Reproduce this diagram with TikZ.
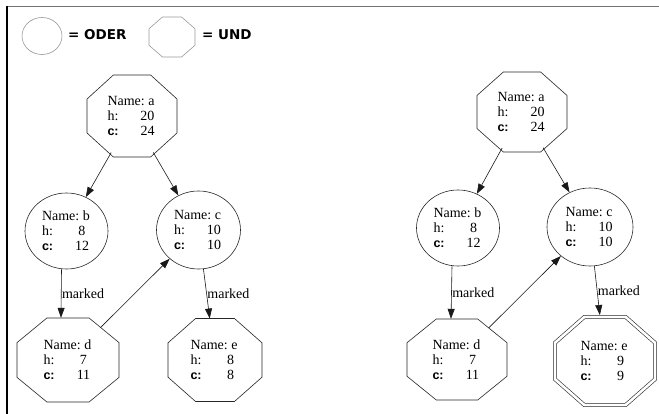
\documentclass[tikz,border=0pt]{standalone}
\usepackage{fontspec}
\setmainfont{Liberation Serif}
\newfontfamily\lserif{Liberation Serif}
\newfontfamily\lsans{Liberation Sans}
\newfontfamily\dvsans{DejaVu Sans}
\usetikzlibrary{shapes.geometric,arrows.meta}

\newcommand\cbold{{\lsans\bfseries\fontsize{12.5}{14.5}\selectfont c:}}
\newcommand\infotxt[3]{\makebox[49pt][l]{Name:\ #1}\\\makebox[31pt][l]{h:}\makebox[18pt][c]{#2}\\\makebox[31pt][l]{\cbold}\makebox[18pt][c]{#3}}
\newcommand\octapath[4]{(#1-0.207*#3,#2-0.5*#4) -- (#1+0.207*#3,#2-0.5*#4) -- (#1+0.5*#3,#2-0.207*#4) -- (#1+0.5*#3,#2+0.207*#4) -- (#1+0.207*#3,#2+0.5*#4) -- (#1-0.207*#3,#2+0.5*#4) -- (#1-0.5*#3,#2+0.207*#4) -- (#1-0.5*#3,#2-0.207*#4) -- cycle}
\newcommand\andnode[6]{%
  \draw[octa] \octapath{#2}{#3}{#4}{#5};
  \node[nodebase, minimum width=#4pt, minimum height=#5pt] (#1) at (#2,#3) {#6};}
\newcommand\ornode[6]{%
  \node[nodebase, draw=black!85, line width=0.6pt, minimum width=#4pt, minimum height=#5pt] (#1) at (#2,#3) {#6};}

\tikzset{
  nodebase/.style={ellipse, inner sep=0pt, align=left, font=\lserif\fontsize{14}{14.8}\selectfont},
  octa/.style={draw=black!85, line width=0.6pt},
  edge/.style={draw=black!90, line width=0.6pt, -{Triangle[length=10pt,width=7pt]}},
  lbl/.style={anchor=west, inner sep=0.5pt, font=\lserif\fontsize{14}{15}\selectfont},
  legendshape/.style={draw=black!40, line width=0.6pt},
  legendtxt/.style={anchor=west, inner sep=0pt, font=\dvsans\bfseries\fontsize{13.5}{15}\selectfont}
}

\begin{document}
\begin{tikzpicture}[x=1pt,y=-1pt]
\useasboundingbox (0,0) rectangle (659,414);
\fill[white] (0,0) rectangle (659,414);
% frame
\draw[black!55, line width=1.5pt] (7,6.5) -- (659,6.5);
\draw[black, line width=1.6pt] (7,6) -- (7,414);

% legend
\node[legendshape, ellipse, minimum width=40pt, minimum height=37pt, inner sep=0pt] (lor) at (42,36) {};
\node[legendtxt] (lortxt) at (68,35) {= ODER};
\draw[legendshape] \octapath{172}{37}{46}{40};
\node[legendtxt] (lundtxt) at (202,35) {= UND};

% left tree
\andnode{a1}{132}{116}{90}{82}{\infotxt{a}{20}{24}}
\ornode{b1}{66.5}{231}{83}{76}{\infotxt{b}{8}{12}}
\ornode{c1}{198.5}{230}{84}{78}{\infotxt{c}{10}{10}}
\andnode{d1}{68}{360}{102}{84}{\infotxt{d}{7}{11}}
\andnode{e1}{215}{360}{94}{83}{\infotxt{e}{8}{8}}

\draw[edge] (a1) -- (b1);
\draw[edge] (a1) -- (c1);
\draw[edge] ([xshift=-5pt]b1.south) -- node[lbl]{marked} ([xshift=-7pt]d1.north);
\draw[edge] (c1) -- node[lbl]{marked} (e1);
\draw[edge] (d1) -- (c1);

% right tree
\andnode{a2}{522}{112}{90}{80}{\infotxt{a}{20}{24}}
\ornode{b2}{458}{228}{83}{76}{\infotxt{b}{8}{12}}
\ornode{c2}{590}{227}{86}{78}{\infotxt{c}{10}{10}}
\andnode{d2}{457}{359.5}{100}{81}{\infotxt{d}{7}{11}}
\draw[octa, double, double distance=2.6pt] \octapath{605}{361}{100}{88};
\node[nodebase, minimum width=104pt, minimum height=92pt] (e2) at (605,361) {\infotxt{e}{9}{9}};

\draw[edge] (a2) -- (b2);
\draw[edge] (a2) -- (c2);
\draw[edge] ([xshift=-6pt]b2.south) -- node[lbl]{marked} ([xshift=-6pt]d2.north);
\draw[edge] (c2) -- node[lbl]{marked} (e2);
\draw[edge] (d2) -- (c2);
\end{tikzpicture}
\end{document}
